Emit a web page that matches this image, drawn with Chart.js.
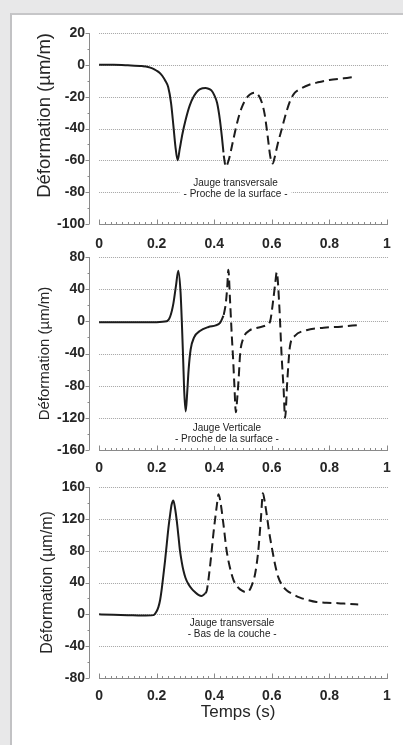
<!DOCTYPE html>
<html lang="fr">
<head>
<meta charset="utf-8">
<title>Déformation – jauges</title>
<script src="https://cdn.jsdelivr.net/npm/chart.js@4.4.1/dist/chart.umd.min.js"></script>
<style>
  html, body { margin: 0; padding: 0; }
  body { width: 403px; height: 745px; background: #e8e8e9; position: relative; overflow: hidden; }
  #panneau { position: absolute; left: 10px; top: 13px; right: 0; bottom: 0; background: #fff;
             border-left: 2px solid #c2c2c4; border-top: 2px solid #c6c6c8; }
  canvas { position: absolute; left: 0; top: 0; }
</style>
</head>
<body>
<div id="panneau"></div>
<canvas id="g1" width="403" height="745"></canvas>
<canvas id="g2" width="403" height="745"></canvas>
<canvas id="g3" width="403" height="745"></canvas>
<script>
// axe des temps (s)
const xTicks = [0, 0.2, 0.4, 0.6, 0.8, 1];

// Jauge transversale - proche de la surface
const y1Ticks = [-100, -80, -60, -40, -20, 0, 20];
const t1Plein = [0, 0.05, 0.1, 0.15, 0.17, 0.185, 0.2, 0.21, 0.22, 0.23, 0.24, 0.25, 0.258, 0.265, 0.273, 0.28, 0.29, 0.3, 0.315, 0.33, 0.345, 0.36, 0.37, 0.38, 0.39, 0.4, 0.41, 0.42, 0.427, 0.432];
const v1Plein = [0, 0, -0.3, -0.8, -1.3, -2.2, -3.7, -5, -7, -10, -14, -24, -38, -51, -60, -53, -43, -35, -25.5, -19.5, -16, -14.7, -14.5, -15, -16, -19, -24, -35, -46, -55];
const t1Tiret = [0.433, 0.44, 0.45, 0.465, 0.48, 0.495, 0.51, 0.525, 0.54, 0.555, 0.565, 0.575, 0.585, 0.595, 0.603, 0.61, 0.62, 0.635, 0.65, 0.665, 0.68, 0.7, 0.73, 0.76, 0.8, 0.85, 0.89];
const v1Tiret = [-57, -64, -60, -48, -36, -27, -21.5, -18.5, -17.5, -19.5, -23.5, -31, -44, -58, -62, -58, -50, -40, -30, -22, -17.5, -15, -12.5, -11, -9.5, -8.5, -7.5];

// Jauge verticale - proche de la surface
const y2Ticks = [-160, -120, -80, -40, 0, 40, 80];
const t2Plein = [0, 0.1, 0.2, 0.235, 0.247, 0.258, 0.267, 0.275, 0.283, 0.288, 0.292, 0.296, 0.301, 0.306, 0.311, 0.318, 0.33, 0.35, 0.38, 0.405, 0.42, 0.432];
const v2Plein = [-1, -1, -1, 0, 6, 22, 44, 63, 36, -6, -47, -89, -112, -89, -60, -35, -20, -12, -7, -5, -2, 7];
const t2Tiret = [0.433, 0.44, 0.445, 0.449, 0.455, 0.461, 0.466, 0.47, 0.475, 0.48, 0.485, 0.49, 0.5, 0.52, 0.55, 0.58, 0.594, 0.605, 0.612, 0.617, 0.626, 0.634, 0.641, 0.646, 0.654, 0.663, 0.68, 0.72, 0.78, 0.84, 0.9];
const v2Tiret = [8, 22, 42, 64, 25, -18, -50, -80, -113, -95, -70, -40, -22, -12, -8, -5, 0, 27, 48, 61, 19, -43, -85, -120, -72, -31, -18, -11, -8, -6.6, -4.6];

// Jauge transversale - bas de la couche
const y3Ticks = [-80, -40, 0, 40, 80, 120, 160];
const t3Plein = [0, 0.05, 0.1, 0.15, 0.189, 0.2, 0.206, 0.212, 0.217, 0.223, 0.229, 0.235, 0.241, 0.247, 0.252, 0.258, 0.264, 0.27, 0.276, 0.281, 0.287, 0.293, 0.3, 0.31, 0.322, 0.333, 0.345, 0.356, 0.368];
const v3Plein = [0, -0.5, -1, -1.5, -1, 4, 9, 18, 30, 48, 67, 88, 109, 126, 138, 143, 133, 117, 97, 80, 66, 55, 46, 38, 32, 28, 24.5, 23, 26];
const t3Tiret = [0.368, 0.374, 0.385, 0.397, 0.408, 0.415, 0.422, 0.432, 0.443, 0.455, 0.467, 0.48, 0.495, 0.51, 0.522, 0.53, 0.542, 0.553, 0.562, 0.569, 0.576, 0.582, 0.59, 0.6, 0.611, 0.622, 0.637, 0.652, 0.675, 0.698, 0.725, 0.755, 0.79, 0.83, 0.87, 0.9];
const v3Tiret = [26, 30, 59, 101, 134, 151, 140, 113, 80, 58, 43, 35, 30, 28, 30, 36, 51, 80, 120, 152, 140, 126, 105, 84, 63, 47, 36, 30, 25, 21, 18, 15.5, 14.5, 14, 13, 12.5];

const police = '"Liberation Sans", Arial, Helvetica, sans-serif';
const encre = '#1c1c1c';

const pts = (t, v) => t.map((x, i) => ({ x: x, y: v[i] }));

// axes à la main : grille pointillée de 0 à 1, petites graduations
const axesMaison = {
  id: 'axesMaison',
  beforeDatasetsDraw(chart) {
    const { ctx, chartArea: a, scales: { x, y } } = chart;
    const x0 = x.getPixelForValue(0), x1 = x.getPixelForValue(1);
    const vals = y.ticks.map(t => t.value);
    ctx.save();
    ctx.lineWidth = 1;
    // grille
    ctx.strokeStyle = '#a4a4a4';
    ctx.setLineDash([1, 1]);
    vals.filter(v => v !== y.min).forEach(v => {
      const py = Math.round(y.getPixelForValue(v)) + 0.5;
      ctx.beginPath(); ctx.moveTo(x0, py); ctx.lineTo(x1 + 1, py); ctx.stroke();
    });
    ctx.setLineDash([]);
    ctx.strokeStyle = '#8a8a8a';
    // axe vertical
    const lx = Math.round(a.left) + 0.5;
    ctx.beginPath(); ctx.moveTo(lx, a.top); ctx.lineTo(lx, a.bottom); ctx.stroke();
    vals.forEach((v, i) => {
      const py = Math.round(y.getPixelForValue(v)) + 0.5;
      ctx.beginPath(); ctx.moveTo(lx - 4, py); ctx.lineTo(lx, py); ctx.stroke();
      if (i < vals.length - 1) {
        const pm = Math.round(y.getPixelForValue((v + vals[i + 1]) / 2)) + 0.5;
        ctx.beginPath(); ctx.moveTo(lx - 2, pm); ctx.lineTo(lx, pm); ctx.stroke();
      }
    });
    // axe horizontal
    const by = Math.round(a.bottom) + 0.5;
    ctx.beginPath(); ctx.moveTo(x0, by); ctx.lineTo(x1 + 1, by); ctx.stroke();
    for (let i = 0; i <= 50; i++) {
      const px = Math.round(x.getPixelForValue(i / 50)) + 0.5;
      const l = i % 10 === 0 ? 5 : 2.5;
      ctx.beginPath(); ctx.moveTo(px, by); ctx.lineTo(px, by - l); ctx.stroke();
    }
    ctx.restore();
  }
};

// légende de la jauge, sur fond blanc
const legendeJauge = {
  id: 'legendeJauge',
  afterDatasetsDraw(chart, args, o) {
    const { ctx, scales: { x, y } } = chart;
    const cx = x.getPixelForValue(o.x), cy = y.getPixelForValue(o.y);
    ctx.save();
    ctx.font = '10px ' + police;
    const w = Math.max(...o.lignes.map(l => ctx.measureText(l).width)) + 8;
    const pas = 11, h = o.lignes.length * pas + 2;
    ctx.fillStyle = '#fff';
    ctx.fillRect(cx - w / 2, cy - h / 2, w, h);
    ctx.fillStyle = '#222';
    ctx.textAlign = 'center';
    ctx.textBaseline = 'middle';
    o.lignes.forEach((l, i) => ctx.fillText(l, cx, cy + (i - (o.lignes.length - 1) / 2) * pas));
    ctx.restore();
  }
};

function tracer(id, c) {
  return new Chart(document.getElementById(id), {
    type: 'scatter',
    data: {
      datasets: [
        { data: pts(c.tPlein, c.vPlein), showLine: true, borderColor: encre, borderWidth: 2,
          pointRadius: 0, cubicInterpolationMode: 'monotone' },
        { data: pts(c.tTiret, c.vTiret), showLine: true, borderColor: encre, borderWidth: 2,
          borderDash: [9, 5], pointRadius: 0, cubicInterpolationMode: 'monotone' }
      ]
    },
    options: {
      responsive: false,
      animation: false,
      layout: { padding: { top: c.haut, bottom: c.bas, left: 0, right: 16 } },
      plugins: {
        legend: { display: false },
        tooltip: { enabled: false },
        legendeJauge: c.legende
      },
      scales: {
        x: {
          type: 'linear', min: -0.035, max: 1,
          afterBuildTicks: s => { s.ticks = xTicks.map(v => ({ value: v })); },
          afterFit: s => { s.height = c.hX; },
          grid: { display: false, drawTicks: false },
          border: { display: false },
          ticks: { color: '#262626', padding: c.padX, maxRotation: 0, autoSkip: false,
                   font: { family: police, size: 14, weight: 'bold' }, callback: v => String(v) },
          title: c.titreX
            ? { display: true, text: c.titreX, color: '#262626', font: { family: police, size: 17 }, padding: 0 }
            : { display: false }
        },
        y: {
          min: c.yTicks[0], max: c.yTicks[c.yTicks.length - 1],
          afterBuildTicks: s => { s.ticks = c.yTicks.map(v => ({ value: v })); },
          afterFit: s => { s.width = 89; },
          grid: { display: false, drawTicks: false },
          border: { display: false },
          ticks: { color: '#262626', padding: 4, font: { family: police, size: 14, weight: 'bold' },
                   callback: v => String(v) },
          title: { display: true, text: 'Déformation (µm/m)', align: c.alignTitre, color: '#262626',
                   font: { family: police, size: c.tailleTitre },
                   padding: { top: c.xTitre - c.tailleTitre * 0.6, bottom: 0 } }
        }
      }
    },
    plugins: [axesMaison, legendeJauge]
  });
}

tracer('g1', {
  tPlein: t1Plein, vPlein: v1Plein, tTiret: t1Tiret, vTiret: v1Tiret, yTicks: y1Ticks,
  haut: 33, bas: 491, hX: 30, padX: 12, alignTitre: 'end', tailleTitre: 18.5, xTitre: 45,
  legende: { x: 0.474, y: -77.8, lignes: ['Jauge transversale', '- Proche de la surface -'] }
});
tracer('g2', {
  tPlein: t2Plein, vPlein: v2Plein, tTiret: t2Tiret, vTiret: v2Tiret, yTicks: y2Ticks,
  haut: 257, bas: 265, hX: 30, padX: 10, alignTitre: 'center', tailleTitre: 15, xTitre: 45,
  legende: { x: 0.444, y: -140, lignes: ['Jauge Verticale', '- Proche de la surface -'] }
});
tracer('g3', {
  tPlein: t3Plein, vPlein: v3Plein, tTiret: t3Tiret, vTiret: v3Tiret, yTicks: y3Ticks,
  haut: 487, bas: 22, hX: 45, padX: 10, alignTitre: 'center', tailleTitre: 16, xTitre: 48,
  titreX: 'Temps (s)',
  legende: { x: 0.462, y: -18.7, lignes: ['Jauge transversale', '- Bas de la couche -'] }
});
</script>
</body>
</html>
